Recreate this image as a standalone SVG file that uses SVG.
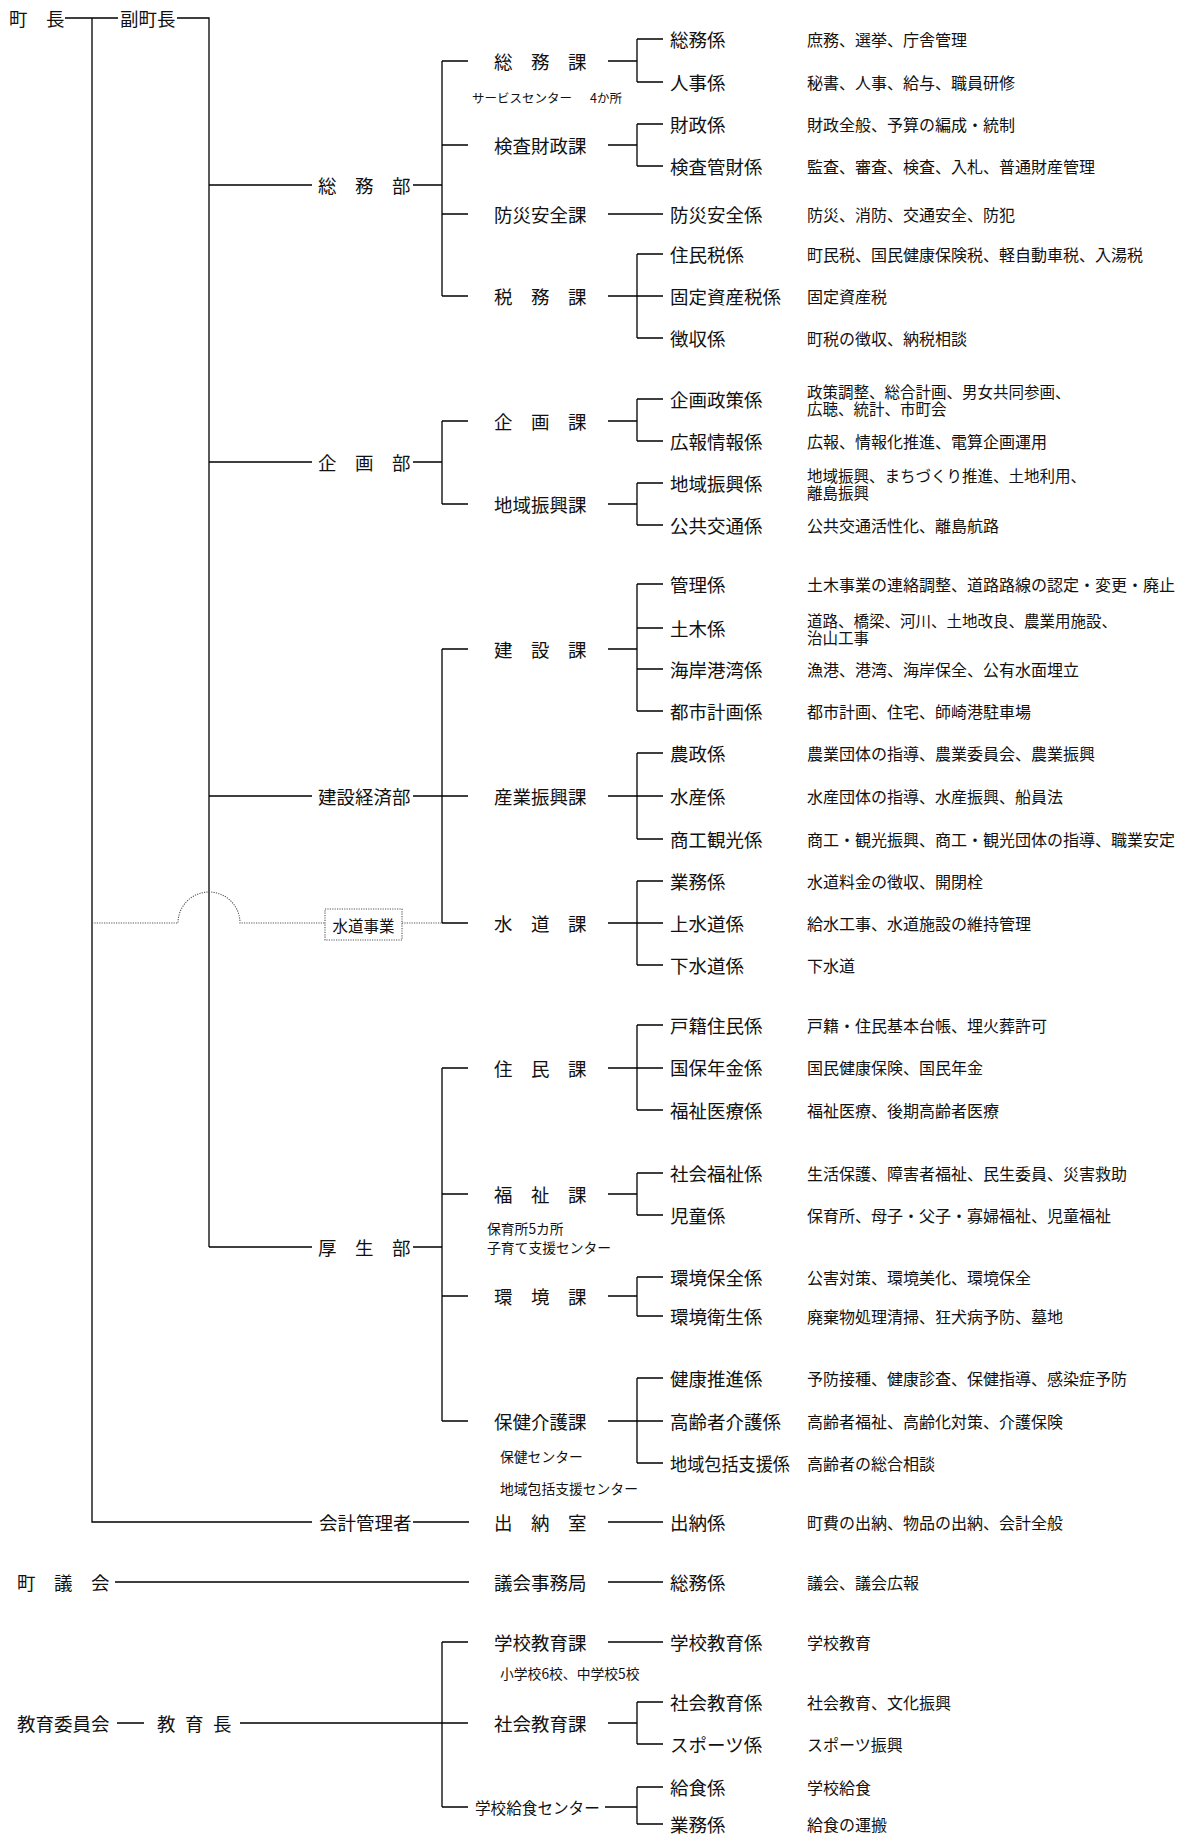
<svg xmlns="http://www.w3.org/2000/svg" width="1179" height="1835" viewBox="0 0 1179 1835">
<style>
text{font-family:"Noto Sans CJK JP","Noto Sans CJK SC",sans-serif;fill:#111;dominant-baseline:central}
.t{font-size:18.5px}
.d{font-size:16px}
.d2{font-size:15.5px}
.s{font-size:13.8px}
.xs{font-size:12.5px}
.m{font-size:15.6px}
.c path{fill:none;stroke:#000;stroke-width:1.3}
.c .dot{stroke:#555;stroke-width:1.1;stroke-dasharray:1.2 1.2}
.box{fill:#fff;stroke:#555;stroke-width:1.1;stroke-dasharray:1.2 1.2}
</style>
<rect width="1179" height="1835" fill="#fff"/>
<g id="connectors" class="c">
<path d="M65 18H118M177 18H209V1247M92 18V1522H312M209 185H312M209 462H312M209 796H312M209 1247H312"/>
<path d="M413 185H442M442 61V296M442 61H468M442 145H468M442 214H468M442 296H468"/>
<path d="M608 61H637M637 39V82M637 39H663M637 82H663"/>
<path d="M608 145H637M637 124V166M637 124H663M637 166H663"/>
<path d="M608 214H663"/>
<path d="M608 296H663M637 254V338M637 254H663M637 338H663"/>
<path d="M413 462H442M442 421V504M442 421H468M442 504H468"/>
<path d="M608 421H637M637 399V441M637 399H663M637 441H663"/>
<path d="M608 504H637M637 483V525M637 483H663M637 525H663"/>
<path d="M413 796H468M442 649V923M442 649H468M442 923H468"/>
<path d="M608 649H637M637 584V711M637 584H663M637 628H663M637 669H663M637 711H663"/>
<path d="M608 796H663M637 753V839M637 753H663M637 839H663"/>
<path d="M608 923H663M637 881V965M637 881H663M637 965H663"/>
<path class="dot" d="M92 923H178A31 31 0 0 1 240 923H325M402 923H442"/>
<path d="M413 1247H442M442 1068V1421M442 1068H468M442 1194H468M442 1296H468M442 1421H468"/>
<path d="M608 1068H663M637 1025V1110M637 1025H663M637 1110H663"/>
<path d="M608 1194H637M637 1173V1215M637 1173H663M637 1215H663"/>
<path d="M608 1296H637M637 1277V1316M637 1277H663M637 1316H663"/>
<path d="M608 1421H663M637 1378V1463M637 1378H663M637 1463H663"/>
<path d="M413 1522H469M608 1522H663"/>
<path d="M115 1582H469M608 1582H663"/>
<path d="M117 1723H144M240 1723H468M442 1642V1807M442 1642H468M442 1807H468"/>
<path d="M608 1642H663"/>
<path d="M608 1723H637M637 1702V1744M637 1702H663M637 1744H663"/>
<path d="M605 1807H637M637 1787V1824M637 1787H663M637 1824H663"/>
</g>
<g id="chocho"><text class="t" x="9" y="18">町　長</text></g>
<g id="fukuchocho"><text class="t" x="120" y="18">副町長</text></g>
<g id="somubu"><text class="t" x="318" y="185">総　務　部</text></g>
<g id="somuka"><text class="t" x="494" y="61">総　務　課</text><text class="xs" x="472" y="97">サービスセンター<tspan x="590">4か所</tspan></text></g>
<g id="k-somu"><text class="t" x="670" y="39">総務係</text><text class="d" x="807" y="39">庶務、選挙、庁舎管理</text></g>
<g id="k-jinji"><text class="t" x="670" y="82">人事係</text><text class="d" x="807" y="82">秘書、人事、給与、職員研修</text></g>
<g id="kensazaiseika"><text class="t" x="494" y="145">検査財政課</text></g>
<g id="k-zaisei"><text class="t" x="670" y="124">財政係</text><text class="d" x="807" y="124">財政全般、予算の編成・統制</text></g>
<g id="k-kensa"><text class="t" x="670" y="166">検査管財係</text><text class="d" x="807" y="166">監査、審査、検査、入札、普通財産管理</text></g>
<g id="bosaika"><text class="t" x="494" y="214">防災安全課</text></g>
<g id="k-bosai"><text class="t" x="670" y="214">防災安全係</text><text class="d" x="807" y="214">防災、消防、交通安全、防犯</text></g>
<g id="zeimuka"><text class="t" x="494" y="296">税　務　課</text></g>
<g id="k-juminzei"><text class="t" x="670" y="254">住民税係</text><text class="d" x="807" y="254">町民税、国民健康保険税、軽自動車税、入湯税</text></g>
<g id="k-kotei"><text class="t" x="670" y="296">固定資産税係</text><text class="d" x="807" y="296">固定資産税</text></g>
<g id="k-choshu"><text class="t" x="670" y="338">徴収係</text><text class="d" x="807" y="338">町税の徴収、納税相談</text></g>
<g id="kikakubu"><text class="t" x="318" y="462">企　画　部</text></g>
<g id="kikakuka"><text class="t" x="494" y="421">企　画　課</text></g>
<g id="k-kikaku"><text class="t" x="670" y="399">企画政策係</text><text class="d2"><tspan x="807" y="390.5">政策調整、総合計画、男女共同参画、</tspan><tspan x="807" y="408">広聴、統計、市町会</tspan></text></g>
<g id="k-koho"><text class="t" x="670" y="441">広報情報係</text><text class="d" x="807" y="441">広報、情報化推進、電算企画運用</text></g>
<g id="chiikika"><text class="t" x="494" y="504">地域振興課</text></g>
<g id="k-chiiki"><text class="t" x="670" y="483">地域振興係</text><text class="d2"><tspan x="807" y="474.5">地域振興、まちづくり推進、土地利用、</tspan><tspan x="807" y="492">離島振興</tspan></text></g>
<g id="k-kokyo"><text class="t" x="670" y="525">公共交通係</text><text class="d" x="807" y="525">公共交通活性化、離島航路</text></g>
<g id="kensetsukeizaibu"><text class="t" x="318" y="796">建設経済部</text></g>
<g id="kensetsuka"><text class="t" x="494" y="649">建　設　課</text></g>
<g id="k-kanri"><text class="t" x="670" y="584">管理係</text><text class="d" x="807" y="584">土木事業の連絡調整、道路路線の認定・変更・廃止</text></g>
<g id="k-doboku"><text class="t" x="670" y="628">土木係</text><text class="d2"><tspan x="807" y="619.5">道路、橋梁、河川、土地改良、農業用施設、</tspan><tspan x="807" y="637">治山工事</tspan></text></g>
<g id="k-kaigan"><text class="t" x="670" y="669">海岸港湾係</text><text class="d" x="807" y="669">漁港、港湾、海岸保全、公有水面埋立</text></g>
<g id="k-toshi"><text class="t" x="670" y="711">都市計画係</text><text class="d" x="807" y="711">都市計画、住宅、師崎港駐車場</text></g>
<g id="sangyoka"><text class="t" x="494" y="796">産業振興課</text></g>
<g id="k-nosei"><text class="t" x="670" y="753">農政係</text><text class="d" x="807" y="753">農業団体の指導、農業委員会、農業振興</text></g>
<g id="k-suisan"><text class="t" x="670" y="796">水産係</text><text class="d" x="807" y="796">水産団体の指導、水産振興、船員法</text></g>
<g id="k-shoko"><text class="t" x="670" y="839">商工観光係</text><text class="d" x="807" y="839">商工・観光振興、商工・観光団体の指導、職業安定</text></g>
<g id="suidojigyo"><rect class="box" x="325" y="909" width="77" height="31"/><text x="363.5" y="924.5" text-anchor="middle" style="font-size:15.5px">水道事業</text></g>
<g id="suidoka"><text class="t" x="494" y="923">水　道　課</text></g>
<g id="k-gyomu"><text class="t" x="670" y="881">業務係</text><text class="d" x="807" y="881">水道料金の徴収、開閉栓</text></g>
<g id="k-josui"><text class="t" x="670" y="923">上水道係</text><text class="d" x="807" y="923">給水工事、水道施設の維持管理</text></g>
<g id="k-gesui"><text class="t" x="670" y="965">下水道係</text><text class="d" x="807" y="965">下水道</text></g>
<g id="koseibu"><text class="t" x="318" y="1247">厚　生　部</text></g>
<g id="juminka"><text class="t" x="494" y="1068">住　民　課</text></g>
<g id="k-koseki"><text class="t" x="670" y="1025">戸籍住民係</text><text class="d" x="807" y="1025">戸籍・住民基本台帳、埋火葬許可</text></g>
<g id="k-kokuho"><text class="t" x="670" y="1067">国保年金係</text><text class="d" x="807" y="1067">国民健康保険、国民年金</text></g>
<g id="k-fukushiiryo"><text class="t" x="670" y="1110">福祉医療係</text><text class="d" x="807" y="1110">福祉医療、後期高齢者医療</text></g>
<g id="fukushika"><text class="t" x="494" y="1194">福　祉　課</text><text class="s" x="487" y="1228">保育所5カ所</text><text class="s" x="487" y="1247">子育て支援センター</text></g>
<g id="k-shakaifukushi"><text class="t" x="670" y="1173">社会福祉係</text><text class="d" x="807" y="1173">生活保護、障害者福祉、民生委員、災害救助</text></g>
<g id="k-jido"><text class="t" x="670" y="1215">児童係</text><text class="d" x="807" y="1215">保育所、母子・父子・寡婦福祉、児童福祉</text></g>
<g id="kankyoka"><text class="t" x="494" y="1296">環　境　課</text></g>
<g id="k-hozen"><text class="t" x="670" y="1277">環境保全係</text><text class="d" x="807" y="1277">公害対策、環境美化、環境保全</text></g>
<g id="k-eisei"><text class="t" x="670" y="1316">環境衛生係</text><text class="d" x="807" y="1316">廃棄物処理清掃、狂犬病予防、墓地</text></g>
<g id="hokenkaigoka"><text class="t" x="494" y="1421">保健介護課</text><text class="s" x="500" y="1456">保健センター</text><text class="s" x="500" y="1488">地域包括支援センター</text></g>
<g id="k-kenko"><text class="t" x="670" y="1378">健康推進係</text><text class="d" x="807" y="1378">予防接種、健康診査、保健指導、感染症予防</text></g>
<g id="k-koreisha"><text class="t" x="670" y="1421">高齢者介護係</text><text class="d" x="807" y="1421">高齢者福祉、高齢化対策、介護保険</text></g>
<g id="k-hokatsu"><text class="t" x="670" y="1463" textLength="120" lengthAdjust="spacingAndGlyphs">地域包括支援係</text><text class="d" x="807" y="1463">高齢者の総合相談</text></g>
<g id="kaikei"><text class="t" x="319" y="1522">会計管理者</text></g>
<g id="suitoshitsu"><text class="t" x="494" y="1522">出　納　室</text></g>
<g id="k-suito"><text class="t" x="670" y="1522">出納係</text><text class="d" x="807" y="1522">町費の出納、物品の出納、会計全般</text></g>
<g id="gikai"><text class="t" x="17" y="1582">町　議　会</text></g>
<g id="gikaijimukyoku"><text class="t" x="494" y="1582">議会事務局</text></g>
<g id="k-gikaisomu"><text class="t" x="670" y="1582">総務係</text><text class="d" x="807" y="1582">議会、議会広報</text></g>
<g id="kyoikuiinkai"><text class="t" x="17" y="1723">教育委員会</text></g>
<g id="kyoikucho"><text class="t" x="157 185 213" y="1723">教育長</text></g>
<g id="gakkoka"><text class="t" x="494" y="1642">学校教育課</text><text class="s" x="500" y="1673">小学校6校、中学校5校</text></g>
<g id="k-gakko"><text class="t" x="670" y="1642">学校教育係</text><text class="d" x="807" y="1642">学校教育</text></g>
<g id="shakaika"><text class="t" x="494" y="1723">社会教育課</text></g>
<g id="k-shakai"><text class="t" x="670" y="1702">社会教育係</text><text class="d" x="807" y="1702">社会教育、文化振興</text></g>
<g id="k-sports"><text class="t" x="670" y="1744">スポーツ係</text><text class="d" x="807" y="1744">スポーツ振興</text></g>
<g id="kyushoku"><text class="m" x="475" y="1807">学校給食センター</text></g>
<g id="k-kyushoku"><text class="t" x="670" y="1787">給食係</text><text class="d" x="807" y="1787">学校給食</text></g>
<g id="k-kyushokugyomu"><text class="t" x="670" y="1824">業務係</text><text class="d" x="807" y="1824">給食の運搬</text></g>
</svg>
